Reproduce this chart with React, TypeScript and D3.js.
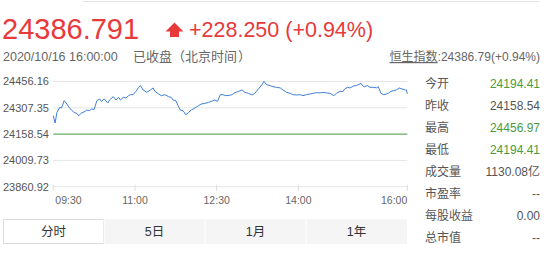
import React from "react";
import * as d3 from "d3";

// Hang Seng Index intraday, 2020-10-16
const times = [
  "09:30", "09:32", "09:34", "09:37", "09:39", "09:42", "09:45", "09:48", "09:50", "09:53",
  "09:56", "09:58", "10:01", "10:05", "10:07", "10:10", "10:12", "10:15", "10:18", "10:21",
  "10:23", "10:26", "10:30", "10:32", "10:36", "10:39", "10:42", "10:44", "10:47", "10:50",
  "10:53", "10:55", "10:58", "11:01", "11:04", "11:06", "11:09", "11:13", "11:17", "11:20",
  "11:22", "11:26", "11:29", "11:33", "11:37", "11:40", "11:42", "11:45", "11:48", "11:50",
  "11:53", "11:56", "11:59", "12:02", "12:06", "12:10", "12:13", "12:17", "12:21", "12:24",
  "12:28", "12:31", "12:34", "12:37", "12:40", "12:44", "12:47", "12:50", "12:54", "12:58",
  "13:01", "13:05", "13:09", "13:12", "13:16", "13:20", "13:22", "13:25", "13:29", "13:32",
  "13:36", "13:40", "13:43", "13:47", "13:51", "13:54", "13:58", "14:02", "14:05", "14:09",
  "14:13", "14:16", "14:20", "14:24", "14:27", "14:31", "14:35", "14:39", "14:42", "14:46",
  "14:49", "14:51", "14:54", "14:57", "15:01", "15:04", "15:09", "15:11", "15:13", "15:16",
  "15:19", "15:23", "15:26", "15:28", "15:31", "15:34", "15:37", "15:39", "15:42", "15:45",
  "15:48", "15:51", "15:54", "15:58", "15:59", "16:00",
];

const prices = [
  24262.4, 24221.0, 24281.2, 24309.6, 24306.2, 24347.6, 24328.9, 24306.2, 24294.8, 24281.2,
  24275.5, 24262.4, 24277.8, 24286.9, 24294.8, 24290.9, 24300.5, 24298.2, 24347.6, 24357.3,
  24343.7, 24357.3, 24334.6, 24351.6, 24370.4, 24351.6, 24366.4, 24351.6, 24366.4, 24363.0,
  24376.0, 24381.7, 24381.7, 24400.5, 24423.2, 24432.8, 24408.4, 24394.8, 24408.4, 24419.8,
  24400.5, 24385.7, 24376.0, 24381.7, 24370.4, 24366.4, 24351.6, 24347.6, 24313.6, 24294.8,
  24290.9, 24268.1, 24281.2, 24294.8, 24306.2, 24319.2, 24328.9, 24332.3, 24338.0, 24343.7,
  24351.6, 24343.7, 24381.7, 24381.7, 24376.0, 24377.7, 24381.7, 24393.1, 24400.5, 24408.4,
  24394.8, 24389.1, 24380.0, 24389.1, 24414.1, 24438.5, 24456.97, 24438.5, 24432.8, 24427.1,
  24423.2, 24419.8, 24408.4, 24394.8, 24389.1, 24381.7, 24380.0, 24381.7, 24376.0, 24381.7,
  24385.7, 24389.1, 24393.1, 24391.4, 24394.8, 24391.4, 24389.1, 24376.0, 24389.1, 24400.5,
  24398.8, 24414.1, 24423.2, 24419.8, 24431.1, 24432.8, 24445.9, 24431.1, 24427.1, 24432.8,
  24423.2, 24423.2, 24419.8, 24427.1, 24389.1, 24381.7, 24385.7, 24389.1, 24400.5, 24404.4,
  24408.4, 24419.8, 24414.1, 24408.4, 24408.4, 24386.79,
];

const prevClose = 24158.54;
const yTicks = [24456.16, 24307.35, 24158.54, 24009.73, 23860.92];
const xTicks = ["09:30", "11:00", "12:30", "14:00", "16:00"];

const lastPrice = "24386.791";
const change = "+228.250 (+0.94%)";
const timestamp = "2020/10/16 16:00:00";
const statusWord = "已收盘";
const zoneWord = "北京时间";
const indexName = "恒生指数";
const indexSummary = ":24386.79(+0.94%)";

const statLabels = ["今开", "昨收", "最高", "最低", "成交量", "市盈率", "每股收益", "总市值"];
const statValues = ["24194.41", "24158.54", "24456.97", "24194.41", "1130.08亿", "--", "0.00", "--"];
const statTone = ["up", "flat", "up", "up", "flat", "flat", "flat", "flat"];

const tabs = ["分时", "5日", "1月", "1年"];

const FONT = '"Liberation Sans", Arial, "Noto Sans CJK SC", sans-serif';
const CJK = '"Noto Sans CJK SC", sans-serif';
const RED = "#e8393b";
const GREEN = "#4b9a3c";
const GREY = "#666";

const toMinutes = (t: string) => {
  const [h, m] = t.split(":").map(Number);
  return h * 60 + m;
};

export default function App() {
  const W = 546;
  const H = 253;
  const plot = { left: 53.3, right: 407.3, top: 81.5, bottom: 186.7 };

  const x = d3
    .scaleLinear()
    .domain([toMinutes("09:30"), toMinutes("16:00")])
    .range([plot.left, plot.right]);
  const y = d3
    .scaleLinear()
    .domain([yTicks[yTicks.length - 1], yTicks[0]])
    .range([plot.bottom, plot.top]);

  const data = times.map((t, i) => ({ m: toMinutes(t), v: prices[i] }));
  const line = d3
    .line<{ m: number; v: number }>()
    .x((d) => x(d.m))
    .y((d) => y(d.v));

  const tabX = d3.scaleBand<string>().domain(tabs).range([3, 407]);

  return (
    <div style={{ position: "absolute", left: 0, top: 0 }}>
      <svg width={W} height={H} style={{ display: "block", background: "#fff" }} fontFamily={FONT}>
        <line x1={83} x2={539} y1={1.5} y2={1.5} stroke="#e2e2e2" />

        {/* headline quote */}
        <text x={2} y={39} fontSize={29} fill={RED}>
          {lastPrice}
        </text>
        <path
          d="M174.5,22.5 L183.5,31.5 L179,31.5 L179,37 L170,37 L170,31.5 L165.5,31.5 Z"
          fill={RED}
        />
        <text x={189} y={37} fontSize={21.5} fill={RED}>
          {change}
        </text>

        <text x={3} y={61} fontSize={12.5} fill={GREY}>
          {timestamp}
        </text>
        <g fontFamily={CJK} fontSize={13} fill={GREY}>
          <text x={133} y={61}>{statusWord}</text>
          <text x={172} y={61}>（</text>
          <text x={185} y={61}>{zoneWord}</text>
          <text x={238} y={61}>）</text>
        </g>

        <text x={540} y={61} fontSize={12} fill={GREY} textAnchor="end">
          <tspan textDecoration="underline">{indexName}</tspan>
          <tspan>{indexSummary}</tspan>
        </text>

        {/* grid */}
        {yTicks.map((t) => (
          <g key={t}>
            <line
              x1={plot.left}
              x2={plot.right}
              y1={y(t)}
              y2={y(t)}
              stroke="#e6e6e6"
            />
            <text x={3} y={y(t)} dy="0.35em" fontSize={11} fill="#555">
              {t.toFixed(2)}
            </text>
          </g>
        ))}
        {xTicks.map((t, i) => {
          const px = x(toMinutes(t));
          const anchor = i === 0 ? "start" : i === xTicks.length - 1 ? "end" : "middle";
          const lx = i === 0 ? px + 2 : px;
          return (
            <g key={t}>
              <line x1={px} x2={px} y1={plot.bottom - 2} y2={plot.bottom + 4} stroke="#dcdcdc" />
              <text x={lx} y={204} fontSize={10.5} fill="#666" textAnchor={anchor}>
                {t}
              </text>
            </g>
          );
        })}

        {/* previous close */}
        <line
          x1={plot.left}
          x2={plot.right}
          y1={y(prevClose)}
          y2={y(prevClose)}
          stroke="#4ea54e"
          strokeWidth={1}
        />

        {/* intraday price */}
        <path d={line(data) ?? ""} fill="none" stroke="#3f7fd6" strokeWidth={1} />

        {/* stats panel */}
        {statLabels.map((lbl, i) => {
          const cy = 83.3 + i * 22;
          return (
            <g key={lbl}>
              <text x={425} y={cy} dy="0.35em" fontSize={12} fill="#555">
                {lbl}
              </text>
              <text
                x={540}
                y={cy}
                dy="0.35em"
                fontSize={12}
                textAnchor="end"
                fill={statTone[i] === "up" ? GREEN : "#555"}
              >
                {statValues[i]}
              </text>
            </g>
          );
        })}

        {/* period tabs */}
        <rect x={tabX(tabs[1])} y={219} width={407 - (tabX(tabs[1]) ?? 0)} height={25} fill="#f5f5f5" />
        {tabs.map((t, i) => {
          const tx = tabX(t) ?? 0;
          const bw = tabX.bandwidth();
          return (
            <g key={t}>
              {i === 0 ? (
                <rect x={tx + 0.5} y={219.5} width={bw - 1} height={24} fill="#fff" stroke="#dcdcdc" />
              ) : (
                <line x1={tx} x2={tx} y1={219} y2={244} stroke="#fff" />
              )}
              <text x={tx + bw / 2} y={232} dy="0.35em" fontSize={12.5} fill="#333" textAnchor="middle">
                {t}
              </text>
            </g>
          );
        })}
      </svg>
    </div>
  );
}
